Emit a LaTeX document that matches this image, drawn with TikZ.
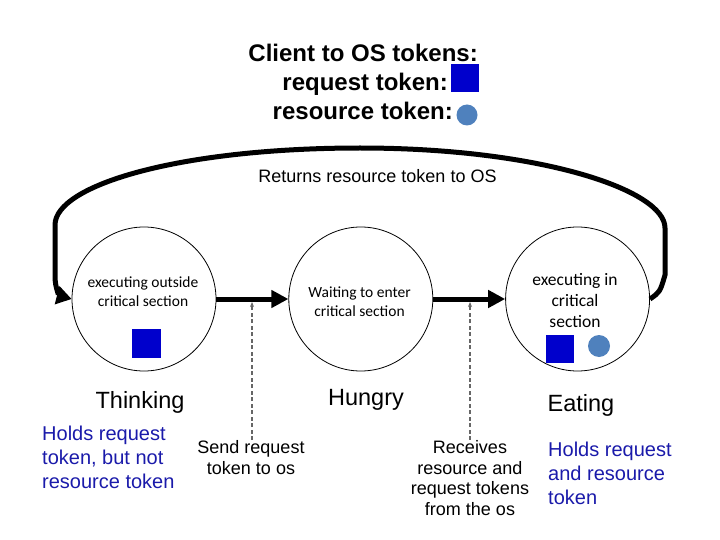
\documentclass[tikz,border=0pt]{standalone}
\usepackage{fontspec}
\setmainfont{Liberation Sans}
\newfontfamily\calibri{Carlito}
\usetikzlibrary{positioning,arrows.meta}
\definecolor{reqblue}{RGB}{0,0,204}
\definecolor{resblue}{RGB}{79,129,189}
\definecolor{notetext}{RGB}{26,26,170}
\begin{document}
\begin{tikzpicture}[x=1pt, y=-1pt, node distance=72pt,
    state/.style={draw, circle, line width=0.8pt, minimum size=144pt, inner sep=0pt},
    inside/.style={align=center, inner sep=0pt, font=\calibri\fontsize{15.5}{19}\selectfont},
    statename/.style={inner sep=0pt, font=\fontsize{23.5}{28}\selectfont},
    note/.style={align=left, inner sep=0pt, text=notetext, font=\fontsize{20}{24}\selectfont},
    event/.style={align=center, inner sep=0pt, font=\fontsize{18}{20.8}\selectfont},
    keytext/.style={inner sep=0pt, font=\bfseries\fontsize{24}{28}\selectfont},
    reqtok/.style={fill=reqblue, minimum size=28pt, inner sep=0pt},
    restok/.style={circle, fill=resblue, minimum size=22pt, inner sep=0pt},
    move/.style={line width=5pt, -{Triangle[length=17pt,width=17pt]}},
    signal/.style={dash pattern=on 4pt off 2.5pt, black!60, line width=1.3pt, -{Stealth[length=5pt,width=4pt]}}]
    \useasboundingbox (0,0) rectangle (720,540);

    % key for the tokens
    \node (title) [keytext, anchor=base east] at (478,62) {Client to OS tokens:};
    \node (reqlabel) [keytext, anchor=base east] at (448,91) {request token:};
    \node (reslabel) [keytext, anchor=base east] at (453,120) {resource token:};
    \node (reqkey) [reqtok] at (465,78) {};
    \node (reskey) [restok, minimum size=21pt] at (467,115) {};

    % the three states
    \node (thinking) [state] at (144,299) {};
    \node (hungry) [state, right=of thinking] {};
    \node (eating) [state, right=of hungry] {};
    \node (thinktext) [inside] at (143,291.5) {executing outside\\critical section};
    \node (hungrytext) [inside] at (359.5,301.5) {Waiting to enter\\critical section};
    \node (eattext) [inside, font=\calibri\fontsize{17.5}{21}\selectfont] at (575,301) {executing in\\critical\\section};
    \node (thinkreq) [reqtok, minimum size=29pt] at (146.5,343.5) {};
    \node (eatreq) [reqtok] at (560,349) {};
    \node (eatres) [restok] at (599,346) {};

    \node (thinkname) [statename, anchor=base] at (140,408) {Thinking};
    \node (hungryname) [statename, anchor=base] at (366,405.5) {Hungry};
    \node (eatname) [statename, anchor=base] at (581,411.5) {Eating};

    \node (thinknote) [note, anchor=north west] at (42,426) {Holds request\\token, but not\\resource token};
    \node (eatnote) [note, anchor=north west] at (548,442) {Holds request\\and resource\\token};

    \node (sendtext) [event, anchor=north] at (251,440) {Send request\\token to os};
    \node (recvtext) [event, anchor=north] at (470,440) {Receives\\resource and\\request tokens\\from the os};
    \node (returntext) [event] at (377.5,176) {Returns resource token to OS};

    % transitions
    \draw[move] (thinking) -- (hungry);
    \draw[move] (hungry) -- (eating);
    \draw[move, -{Triangle[length=15pt,width=18pt]}] (eating.east) .. controls (660,292) .. (665,275) -- (665,228)
        .. controls (665,190) and (540,148) .. (360,148)
        .. controls (180,148) and (55,185) .. (55,225) -- (55,276)
        .. controls (55,289) and (60,296) .. (thinking.west);

    \coordinate (sendhead) at (252,302);
    \coordinate (recvhead) at (470,302);
    \draw[signal] (sendtext.north -| sendhead) -- (sendhead);
    \draw[signal] (recvtext.north) -- (recvhead);
\end{tikzpicture}
\end{document}
